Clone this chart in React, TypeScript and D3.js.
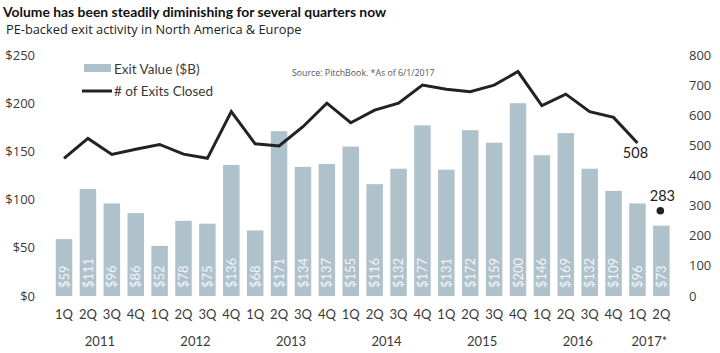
import React from 'react';
import * as d3 from 'd3';

const quarters = ['1Q', '2Q', '3Q', '4Q'];
const years = ['2011', '2012', '2013', '2014', '2015', '2016', '2017*'];
const exitValue = [59, 111, 96, 86, 52, 78, 75, 136, 68, 171, 134, 137, 155, 116, 132, 177, 131, 172, 159, 200, 146, 169, 132, 109, 96, 73];
const exitsClosed = [457, 523, 470, 487, 503, 471, 457, 612, 505, 498, 562, 640, 575, 617, 640, 700, 686, 678, 700, 745, 632, 670, 612, 593, 508];
const lastCount = 283;
const leftTicks = [0, 50, 100, 150, 200, 250];
const rightTicks = [0, 100, 200, 300, 400, 500, 600, 700, 800];

const W = 720;
const H = 353;
const barColor = '#afc1cb';
const lineColor = '#222222';
const textColor = '#3a3a3a';

const App = () => {
  const keys = exitValue.map((_, i) => `${Math.floor(i / 4)}-${i % 4}`);
  const x = d3.scaleBand<string>().domain(keys).range([48.4, 677]).padding(0.31);
  const yL = d3.scaleLinear().domain([0, 250]).range([296, 55]);
  const yR = d3.scaleLinear().domain([0, 800]).range([296, 55]);
  const cx = (i: number) => (x(keys[i]) as number) + x.bandwidth() / 2;

  const line = d3.line<number>()
    .x((_, i) => cx(i))
    .y(d => yR(d));

  const lastIdx = exitsClosed.length - 1;
  const font = '"Open Sans", "DejaVu Sans", sans-serif';
  const font2 = 'Lato, "Liberation Sans", sans-serif';

  return (
    <svg width={W} height={H} style={{ position: 'absolute', left: 0, top: 0, background: '#fff' }}>
      <text x={3} y={17} fontFamily={font2} fontWeight="bold" fontSize={13.9} fill="#111">
        Volume has been steadily diminishing for several quarters now
      </text>
      <text x={6} y={34} fontFamily={font} fontSize={12.8} fill="#222">
        PE-backed exit activity in North America &amp; Europe
      </text>

      {/* left axis */}
      {leftTicks.map(t => (
        <text key={'l' + t} x={35} y={yL(t)} dy="0.35em" textAnchor="end" fontFamily={font} fontSize={13} fill={textColor}>
          {'$' + t}
        </text>
      ))}
      {/* right axis */}
      {rightTicks.map(t => (
        <text key={'r' + t} x={689} y={yR(t)} dy="0.35em" fontFamily={font} fontSize={13} fill={textColor}>
          {t}
        </text>
      ))}

      {/* bars */}
      {exitValue.map((v, i) => (
        <g key={'b' + i}>
          <rect x={x(keys[i])} y={yL(v)} width={x.bandwidth()} height={yL(0) - yL(v)} fill={barColor} />
          <text
            transform={`translate(${cx(i)},288) rotate(-90)`}
            dy="0.35em"
            fontFamily={font2}
            fontSize={13}
            fill="#f2f5f7"
          >
            {'$' + v}
          </text>
        </g>
      ))}

      {/* line */}
      <path d={line(exitsClosed) as string} fill="none" stroke={lineColor} strokeWidth={3} strokeLinejoin="miter" />
      <text x={cx(lastIdx) - 2} y={yR(exitsClosed[lastIdx]) + 15} textAnchor="middle" fontFamily={font2} fontSize={14.5} fill="#222">
        {exitsClosed[lastIdx]}
      </text>
      <circle cx={cx(lastIdx + 1) - 1} cy={yR(lastCount)} r={3.8} fill="#222" />
      <text x={cx(lastIdx + 1) + 1} y={yR(lastCount) - 10} textAnchor="middle" fontFamily={font2} fontSize={14.5} fill="#222">
        {lastCount}
      </text>

      {/* x labels */}
      {exitValue.map((_, i) => (
        <text key={'q' + i} x={cx(i)} y={314} dy="0.35em" textAnchor="middle" fontFamily={font2} fontSize={13} fill={textColor}>
          {quarters[i % 4]}
        </text>
      ))}
      {years.map((yr, j) => {
        const first = j * 4;
        const last = Math.min(first + 3, exitValue.length - 1);
        return (
          <text key={yr} x={(cx(first) + cx(last)) / 2} y={341} dy="0.35em" textAnchor="middle" fontFamily={font2} fontSize={13} fill={textColor}>
            {yr}
          </text>
        );
      })}

      {/* legend */}
      <rect x={84} y={64} width={27} height={8} fill={barColor} />
      <text x={114} y={69} dy="0.35em" fontFamily={font2} fontSize={13.5} fill={textColor}>Exit Value ($B)</text>
      <line x1={82} x2={112} y1={91} y2={91} stroke={lineColor} strokeWidth={3} />
      <text x={114} y={91} dy="0.35em" fontFamily={font2} fontSize={13.5} fill={textColor}>
        # of Exits Closed
      </text>
      <text x={292} y={73} dy="0.35em" fontFamily={font} fontSize={8.8} fill="#555">
        Source: PitchBook. *As of 6/1/2017
      </text>
    </svg>
  );
};

export default App;
